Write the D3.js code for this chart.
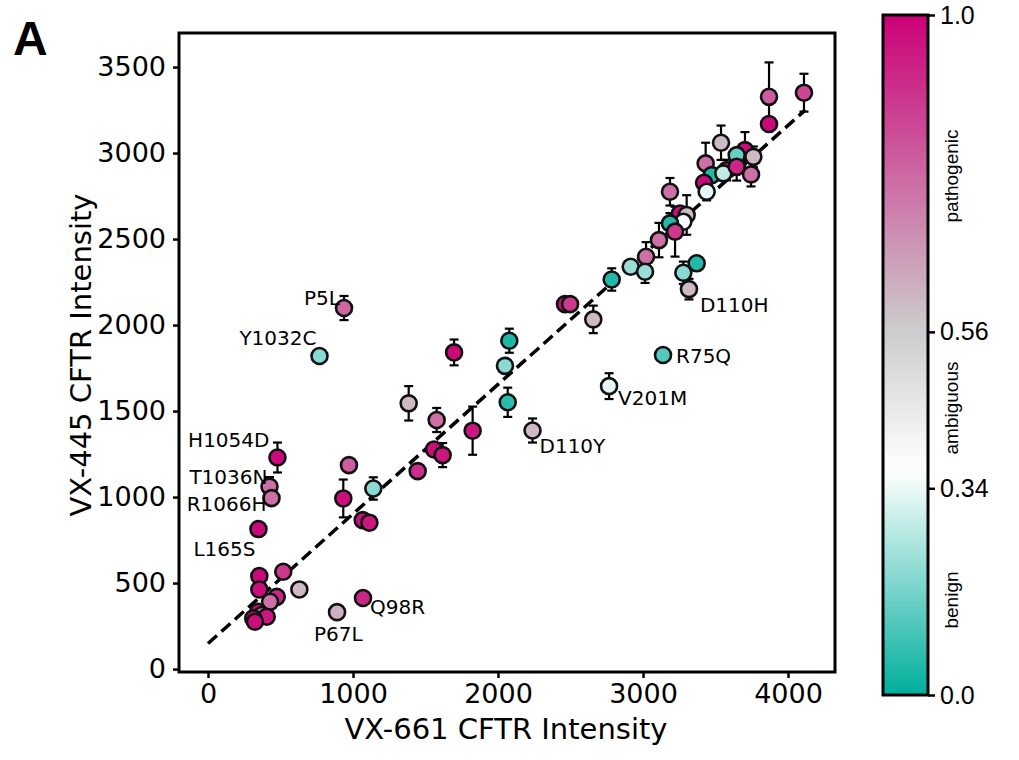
<!DOCTYPE html>
<html>
<head>
<meta charset="utf-8">
<script src="https://cdn.jsdelivr.net/npm/d3@7"></script>
<style>
  body { margin: 0; background: #fff; }
  svg { display: block; }
</style>
</head>
<body>
<svg id="chart" width="1019" height="760"></svg>
<script>
// values
// first 12 points are the annotated variants
var labelNames = ["P5L", "Y1032C", "H1054D", "T1036N", "R1066H", "L165S",
                  "P67L", "Q98R", "D110Y", "V201M", "R75Q", "D110H"];

var vx661 = [938, 769, 479, 424, 438, 348, 890, 1069, 2238, 2766, 3138, 3317,
             1697, 2078, 2048, 2067, 1384, 1577, 1825, 1559, 1618, 1446, 972, 933,
             1140, 1067, 1113, 2462, 2497, 2657, 2784, 3869, 3869, 4110, 3538, 3432,
             3703, 3646, 3761, 3745, 3474, 3421, 3439, 3577, 3554, 3646, 3186, 3255,
             3301, 3278, 3186, 3221, 3110, 3021, 2915, 3014, 3278, 3370,
             354, 519, 630, 354, 474, 428, 347, 370, 405, 312, 324];

var vx445 = [2099, 1820, 1230, 1061, 994, 814, 331, 413, 1387, 1645, 1826, 2209,
             1841, 1909, 1763, 1551, 1545, 1448, 1386, 1277, 1244, 1151, 1186, 992,
             1050, 866, 851, 2122, 2122, 2033, 2265, 3327, 3169, 3351, 3060, 2940,
             3017, 2988, 2978, 2876, 2872, 2827, 2775, 2901, 2882, 2920, 2775, 2649,
             2640, 2601, 2591, 2543, 2494, 2397, 2339, 2310, 2304, 2359,
             541, 566, 463, 463, 420, 391, 333, 314, 304, 295, 275];

var vx445Err = [70, 0, 87, 55, 0, 35, 0, 0, 70, 75, 0, 60,
                75, 70, 0, 85, 100, 70, 140, 0, 70, 0, 35, 110,
                65, 0, 0, 0, 0, 80, 65, 200, 0, 110, 100, 120,
                105, 0, 60, 70, 0, 0, 50, 60, 0, 80, 80, 0,
                115, 0, 60, 145, 100, 85, 0, 65, 65, 0,
                0, 0, 0, 0, 0, 0, 0, 0, 0, 0, 0];

var score = [0.78, 0.2, 0.98, 0.76, 0.76, 0.98, 0.62, 0.92, 0.6, 0.33, 0.12, 0.6,
             0.98, 0.04, 0.2, 0.06, 0.6, 0.76, 0.95, 0.97, 0.95, 0.9, 0.8, 0.97,
             0.2, 0.97, 0.95, 0.96, 0.88, 0.6, 0.05, 0.8, 0.98, 0.85, 0.6, 0.76,
             0.97, 0.15, 0.6, 0.76, 0.05, 0.98, 0.33, 0.92, 0.28, 0.92, 0.76, 0.97,
             0.6, 0.38, 0.05, 0.88, 0.76, 0.76, 0.22, 0.22, 0.2, 0.05,
             0.98, 0.88, 0.6, 0.97, 0.92, 0.76, 0.97, 0.76, 0.95, 0.98, 0.97];

var fitX = [0, 4120];
var fitY = [149, 3251];

var xTicks = [0, 1000, 2000, 3000, 4000];
var yTicks = [0, 500, 1000, 1500, 2000, 2500, 3000, 3500];
var cbTicks = [0, 0.34, 0.56, 1.0];
var cbTickLabels = ["0.0", "0.34", "0.56", "1.0"];
var cbNames = ["benign", "ambiguous", "pathogenic"];

// label placement (px offsets from the point)
var labelLayout = [
  {a: "end", dx: -4, dy: -3}, {a: "end", dx: -3, dy: -11}, {a: "end", dx: -8, dy: -11},
  {a: "end", dx: -2, dy: -3}, {a: "end", dx: -5, dy: 13}, {a: "end", dx: -3, dy: 27},
  {a: "start", dx: -23, dy: 29}, {a: "start", dx: 7, dy: 16}, {a: "start", dx: 7, dy: 22},
  {a: "start", dx: 9, dy: 19}, {a: "start", dx: 13, dy: 8}, {a: "start", dx: 11, dy: 23}
];

var svg = d3.select("#chart");
var plotFont = "'DejaVu Sans', sans-serif";
var barFont = "'Liberation Sans', Arial, sans-serif";

var x = d3.scaleLinear().domain([-200, 4324]).range([179, 835]);
var y = d3.scaleLinear().domain([-17, 3698]).range([672, 33]);

// colour bar value -> position along bar (bar is not linear in value)
var cbPos = d3.scaleLinear().domain([0, 0.34, 0.56, 1]).range([0, 0.304, 0.534, 1]);
var cmap = d3.scaleLinear()
    .domain([0, 0.33, 0.534, 1])
    .range(["#00ae9c", "#ffffff", "#cdcdcd", "#cc0077"])
    .interpolate(d3.interpolateRgb);
function colorOf(v) { return cmap(cbPos(v)); }

var pts = vx661.map(function(d, i) {
  return {x: d, y: vx445[i], e: vx445Err[i], s: score[i], i: i};
});

// fit line
svg.append("line")
    .attr("x1", x(fitX[0])).attr("y1", y(fitY[0]))
    .attr("x2", x(fitX[1])).attr("y2", y(fitY[1]))
    .attr("stroke", "#000").attr("stroke-width", 3.5)
    .attr("stroke-dasharray", "12,6");

// error bars
var eb = svg.append("g").selectAll("g")
    .data(pts.filter(function(d) { return d.e > 0; }))
    .enter().append("g")
    .attr("stroke", "#000").attr("stroke-width", 2.2);
eb.append("line")
    .attr("x1", function(d) { return x(d.x); }).attr("x2", function(d) { return x(d.x); })
    .attr("y1", function(d) { return y(d.y - d.e); }).attr("y2", function(d) { return y(d.y + d.e); });
eb.append("line")
    .attr("x1", function(d) { return x(d.x) - 4.5; }).attr("x2", function(d) { return x(d.x) + 4.5; })
    .attr("y1", function(d) { return y(d.y + d.e); }).attr("y2", function(d) { return y(d.y + d.e); });
eb.append("line")
    .attr("x1", function(d) { return x(d.x) - 4.5; }).attr("x2", function(d) { return x(d.x) + 4.5; })
    .attr("y1", function(d) { return y(d.y - d.e); }).attr("y2", function(d) { return y(d.y - d.e); });

// points
svg.append("g").selectAll("circle")
    .data(pts)
    .enter().append("circle")
    .attr("cx", function(d) { return x(d.x); })
    .attr("cy", function(d) { return y(d.y); })
    .attr("r", 8)
    .attr("fill", function(d) { return colorOf(d.s); })
    .attr("stroke", "#111").attr("stroke-width", 2.6);

// variant labels
svg.append("g").selectAll("text")
    .data(labelNames)
    .enter().append("text")
    .attr("x", function(d, i) { return x(vx661[i]) + labelLayout[i].dx; })
    .attr("y", function(d, i) { return y(vx445[i]) + labelLayout[i].dy; })
    .attr("text-anchor", function(d, i) { return labelLayout[i].a; })
    .style("font-family", plotFont).style("font-size", "20px")
    .text(function(d) { return d; });

// frame
svg.append("rect")
    .attr("x", 179).attr("y", 33).attr("width", 656).attr("height", 639)
    .attr("fill", "none").attr("stroke", "#000").attr("stroke-width", 3);

// axes
var xAxis = svg.append("g").attr("transform", "translate(0,672)")
    .call(d3.axisBottom(x).tickValues(xTicks).tickFormat(d3.format("d"))
      .tickSize(6).tickSizeOuter(0).tickPadding(6));
var yAxis = svg.append("g").attr("transform", "translate(179,0)")
    .call(d3.axisLeft(y).tickValues(yTicks).tickFormat(d3.format("d"))
      .tickSize(6).tickSizeOuter(0).tickPadding(7));
[xAxis, yAxis].forEach(function(a) {
  a.select(".domain").remove();
  a.selectAll("line").attr("stroke", "#000").attr("stroke-width", 2.5);
  a.selectAll("text").style("font-family", plotFont).style("font-size", "27px").attr("fill", "#000");
});

svg.append("text")
    .attr("x", 506).attr("y", 739)
    .attr("text-anchor", "middle")
    .style("font-family", plotFont).style("font-size", "29px")
    .text("VX-661 CFTR Intensity");
svg.append("text")
    .attr("transform", "translate(91,355) rotate(-90)")
    .attr("text-anchor", "middle")
    .style("font-family", plotFont).style("font-size", "29px")
    .text("VX-445 CFTR Intensity");

svg.append("text")
    .attr("x", 13).attr("y", 55)
    .style("font-family", barFont).style("font-size", "48px").style("font-weight", "bold")
    .text("A");

// colour bar
var cbX = 883, cbW = 45, cbTop = 15, cbBot = 695;

var grad = svg.append("defs").append("linearGradient")
    .attr("id", "cbgrad").attr("x1", 0).attr("y1", 1).attr("x2", 0).attr("y2", 0);
grad.selectAll("stop")
    .data(d3.range(0, 1.0001, 0.02))
    .enter().append("stop")
    .attr("offset", function(d) { return d; })
    .attr("stop-color", function(d) { return cmap(d); });

svg.append("rect")
    .attr("x", cbX).attr("y", cbTop).attr("width", cbW).attr("height", cbBot - cbTop)
    .attr("fill", "url(#cbgrad)").attr("stroke", "#000").attr("stroke-width", 3);

var cbAxis = svg.append("g").attr("transform", "translate(" + (cbX + cbW) + ",0)")
    .call(d3.axisRight(d3.scaleLinear().domain([0, 1]).range([cbBot, cbTop]))
      .tickValues(cbTicks.map(function(v) { return cbPos(v); }))
      .tickFormat(function(d, i) { return cbTickLabels[i]; })
      .tickSize(7).tickSizeOuter(0).tickPadding(5));
cbAxis.select(".domain").remove();
cbAxis.selectAll("line").attr("stroke", "#000").attr("stroke-width", 2.5);
cbAxis.selectAll("text").style("font-family", barFont).style("font-size", "25px").attr("fill", "#000");

var cbNameY = [600, 408, 176];
svg.append("g").selectAll("text")
    .data(cbNames)
    .enter().append("text")
    .attr("transform", function(d, i) { return "translate(958," + cbNameY[i] + ") rotate(-90)"; })
    .attr("text-anchor", "middle")
    .style("font-family", barFont).style("font-size", "19px")
    .text(function(d) { return d; });
</script>
</body>
</html>
